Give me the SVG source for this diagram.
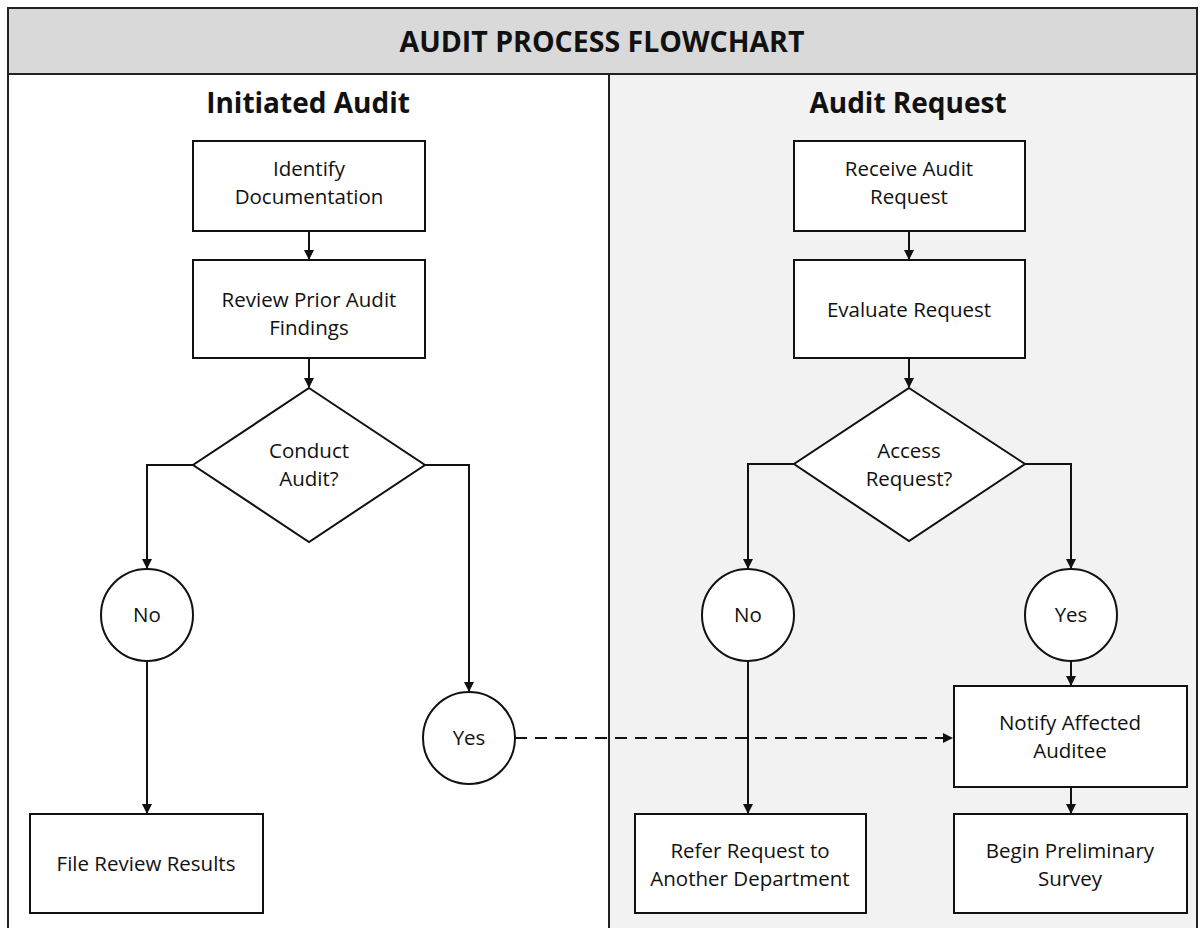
<svg xmlns="http://www.w3.org/2000/svg" width="1203" height="928" viewBox="0 0 1203 928">
<style>
.frame{fill:none;stroke:#222;stroke-width:2}
.box{fill:#fff;stroke:#111;stroke-width:2}
.t{font-family:"Open Sans","Liberation Sans",sans-serif;font-size:20.5px;fill:#111;text-anchor:middle}
.h{font-family:"Open Sans","Liberation Sans",sans-serif;font-weight:bold;fill:#111;text-anchor:middle}
.c{fill:none;stroke:#111;stroke-width:2}
</style>
<defs>
<marker id="ah" markerWidth="10" markerHeight="10" refX="9" refY="5" orient="auto" markerUnits="userSpaceOnUse">
<path d="M0,0 L10,5 L0,10 Z" fill="#111"/>
</marker>
</defs>
<rect x="0" y="0" width="1203" height="928" fill="#fff"/>
<g id="lanes">
<rect x="609" y="74" width="588" height="860" fill="#f2f2f2"/>
<rect x="8" y="8" width="1189" height="66" fill="#d9d9d9"/>
<rect class="frame" x="8" y="8" width="1189" height="930"/>
<line class="frame" x1="8" y1="74" x2="1197" y2="74"/>
<line class="frame" x1="609" y1="74" x2="609" y2="930"/>
<text class="h" x="602" y="52" font-size="28.5">AUDIT PROCESS FLOWCHART</text>
<text class="h" x="308" y="113" font-size="28">Initiated Audit</text>
<text class="h" x="908" y="113" font-size="28">Audit Request</text>
</g>
<g id="connectors">
<line class="c" x1="309" y1="231" x2="309" y2="259" marker-end="url(#ah)"/>
<line class="c" x1="309" y1="358" x2="309" y2="387" marker-end="url(#ah)"/>
<polyline class="c" points="193,465 147,465 147,568" marker-end="url(#ah)"/>
<line class="c" x1="147" y1="661" x2="147" y2="813" marker-end="url(#ah)"/>
<polyline class="c" points="425,465 469,465 469,691" marker-end="url(#ah)"/>
<line class="c" x1="515" y1="738" x2="952" y2="738" stroke-dasharray="12,8" marker-end="url(#ah)"/>
<line class="c" x1="909" y1="231" x2="909" y2="259" marker-end="url(#ah)"/>
<line class="c" x1="909" y1="358" x2="909" y2="387" marker-end="url(#ah)"/>
<polyline class="c" points="794,464 748,464 748,568" marker-end="url(#ah)"/>
<line class="c" x1="748" y1="661" x2="748" y2="813" marker-end="url(#ah)"/>
<polyline class="c" points="1025,464 1071,464 1071,568" marker-end="url(#ah)"/>
<line class="c" x1="1071" y1="661" x2="1071" y2="685" marker-end="url(#ah)"/>
<line class="c" x1="1071" y1="787" x2="1071" y2="813" marker-end="url(#ah)"/>
</g>
<g id="identify">
<rect class="box" x="193" y="141" width="232" height="90"/>
<text class="t" x="309" y="176">Identify</text>
<text class="t" x="309" y="204">Documentation</text>
</g>
<g id="review">
<rect class="box" x="193" y="260" width="232" height="98"/>
<text class="t" x="309" y="307">Review Prior Audit</text>
<text class="t" x="309" y="335">Findings</text>
</g>
<g id="conduct">
<polygon class="box" points="309,388 425,465 309,542 193,465"/>
<text class="t" x="309" y="458">Conduct</text>
<text class="t" x="309" y="486">Audit?</text>
</g>
<g id="no-left">
<circle class="box" cx="147" cy="615" r="46"/>
<text class="t" x="147" y="622">No</text>
</g>
<g id="yes-left">
<circle class="box" cx="469" cy="738" r="46"/>
<text class="t" x="469" y="745">Yes</text>
</g>
<g id="file">
<rect class="box" x="30" y="814" width="233" height="99"/>
<text class="t" x="146" y="871">File Review Results</text>
</g>
<g id="receive">
<rect class="box" x="794" y="141" width="231" height="90"/>
<text class="t" x="909" y="176">Receive Audit</text>
<text class="t" x="909" y="204">Request</text>
</g>
<g id="evaluate">
<rect class="box" x="794" y="260" width="231" height="98"/>
<text class="t" x="909" y="317">Evaluate Request</text>
</g>
<g id="access">
<polygon class="box" points="909,388 1025,464 909,541 794,464"/>
<text class="t" x="909" y="458">Access</text>
<text class="t" x="909" y="486">Request?</text>
</g>
<g id="no-right">
<circle class="box" cx="748" cy="615" r="46"/>
<text class="t" x="748" y="622">No</text>
</g>
<g id="yes-right">
<circle class="box" cx="1071" cy="615" r="46"/>
<text class="t" x="1071" y="622">Yes</text>
</g>
<g id="notify">
<rect class="box" x="954" y="686" width="233" height="101"/>
<text class="t" x="1070" y="730">Notify Affected</text>
<text class="t" x="1070" y="758">Auditee</text>
</g>
<g id="refer">
<rect class="box" x="635" y="814" width="231" height="99"/>
<text class="t" x="750" y="858">Refer Request to</text>
<text class="t" x="750" y="886">Another Department</text>
</g>
<g id="begin">
<rect class="box" x="954" y="814" width="233" height="99"/>
<text class="t" x="1070" y="858">Begin Preliminary</text>
<text class="t" x="1070" y="886">Survey</text>
</g>
</svg>
